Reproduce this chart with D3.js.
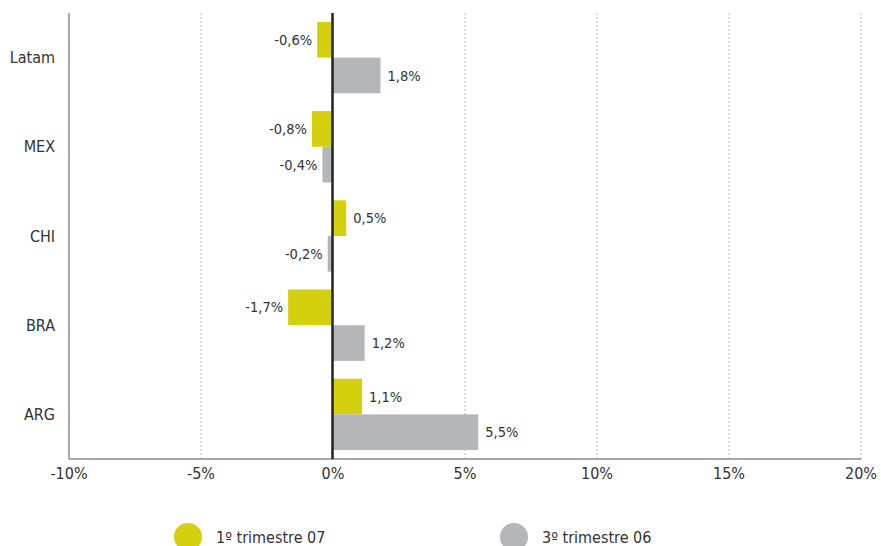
<!DOCTYPE html>
<html>
<head>
<meta charset="utf-8">
<script src="https://cdn.jsdelivr.net/npm/d3@7"></script>
<style>
body { margin: 0; background: #fff; }
text { font-family: "Liberation Sans Narrow", "DejaVu Sans Condensed", "Liberation Sans", sans-serif; fill: #333; }
</style>
</head>
<body>
<div id="chart"></div>
<script>
// data
var categories = ["Latam", "MEX", "CHI", "BRA", "ARG"];
var seriesNames = ["1º trimestre 07", "3º trimestre 06"];
var q1_07 = [-0.6, -0.8, 0.5, -1.7, 1.1];
var q3_06 = [1.8, -0.4, -0.2, 1.2, 5.5];
var xTicks = [-10, -5, 0, 5, 10, 15, 20];
var colors = ["#d4d00e", "#b5b6b9"];

var width = 881, height = 546;
var margin = {top: 13, right: 20, bottom: 87, left: 69};
var w = width - margin.left - margin.right;
var h = height - margin.top - margin.bottom;

var svg = d3.select("#chart").append("svg")
	.attr("width", width)
	.attr("height", height);
var g = svg.append("g")
	.attr("transform", "translate(" + margin.left + "," + margin.top + ")");

var x = d3.scaleLinear().domain([-10, 20]).range([0, w]);
var y = d3.scaleBand().domain(categories).range([0, h]).paddingInner(0.2).paddingOuter(0.1);
var y1 = d3.scaleBand().domain([0, 1]).range([0, y.bandwidth()]);

function fmt(v) { return (v + "").replace(".", ",") + "%"; }

// dotted grid
g.selectAll(".grid").data(xTicks.filter(function(d) { return d !== 0 && d !== -10; }))
	.enter().append("line")
	.attr("x1", function(d) { return x(d); })
	.attr("x2", function(d) { return x(d); })
	.attr("y1", 0).attr("y2", h)
	.attr("stroke", "#bbb")
	.attr("stroke-width", 1)
	.attr("stroke-dasharray", "2,2");

// bars
var rows = categories.map(function(c, i) { return {cat: c, vals: [q1_07[i], q3_06[i]]}; });
var grp = g.selectAll(".row").data(rows).enter().append("g")
	.attr("transform", function(d) { return "translate(0," + y(d.cat) + ")"; });

grp.selectAll("rect").data(function(d) { return d.vals; }).enter().append("rect")
	.attr("x", function(d) { return x(Math.min(0, d)); })
	.attr("width", function(d) { return Math.abs(x(d) - x(0)); })
	.attr("y", function(d, i) { return y1(i); })
	.attr("height", y1.bandwidth())
	.attr("fill", function(d, i) { return colors[i]; });

grp.selectAll(".val").data(function(d) { return d.vals; }).enter().append("text")
	.attr("x", function(d) { return d < 0 ? x(d) - 5 : x(d) + 7; })
	.attr("y", function(d, i) { return y1(i) + y1.bandwidth() / 2; })
	.attr("dy", "0.35em")
	.attr("text-anchor", function(d) { return d < 0 ? "end" : "start"; })
	.style("font-size", "14.5px")
	.text(fmt);

// axes
g.append("line")
	.attr("x1", 0).attr("x2", w).attr("y1", h).attr("y2", h)
	.attr("stroke", "#888").attr("stroke-width", 1.5);
g.append("line")
	.attr("x1", 0).attr("x2", 0).attr("y1", 0).attr("y2", h)
	.attr("stroke", "#888").attr("stroke-width", 1.5);
g.append("line")
	.attr("x1", x(0) - 0.5).attr("x2", x(0) - 0.5).attr("y1", 0).attr("y2", h)
	.attr("stroke", "#222").attr("stroke-width", 2.5);

g.selectAll(".xt").data(xTicks).enter().append("text")
	.attr("x", function(d) { return x(d); })
	.attr("y", h + 20)
	.attr("text-anchor", "middle")
	.style("font-size", "16px")
	.text(function(d) { return d + "%"; });

g.selectAll(".cat").data(categories).enter().append("text")
	.attr("x", -14)
	.attr("y", function(d) { return y(d) + y.bandwidth() / 2; })
	.attr("dy", "0.35em")
	.attr("text-anchor", "end")
	.style("font-size", "16px")
	.text(function(d) { return d; });

// legend
var legX = [188, 514];
var leg = svg.selectAll(".leg").data(seriesNames).enter().append("g")
	.attr("transform", function(d, i) { return "translate(" + legX[i] + ",537)"; });
leg.append("circle").attr("r", 14).attr("fill", function(d, i) { return colors[i]; });
leg.append("text").attr("x", 28).attr("y", 0).attr("dy", "0.35em")
	.style("font-size", "16px")
	.text(function(d) { return d; });
</script>
</body>
</html>
